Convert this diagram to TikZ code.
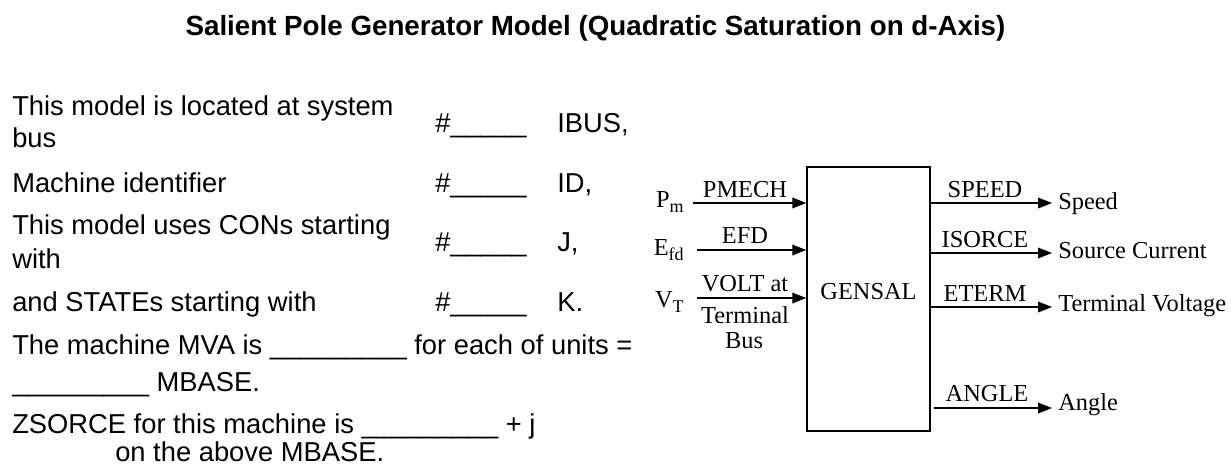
\documentclass[tikz,border=0pt]{standalone}
\usepackage{fontspec}
\setmainfont{Liberation Serif}
\newfontfamily\arialfont{Liberation Sans}
\usetikzlibrary{arrows.meta}
\newcommand{\mysub}[1]{\raisebox{-0.45ex}{\fontsize{13.5}{13.5}\selectfont #1}}
\begin{document}
\begin{tikzpicture}[x=0.75pt,y=-0.75pt,
  lt/.style={anchor=base west,inner sep=0pt,font=\arialfont\fontsize{20.5}{24}\selectfont},
  ttl/.style={anchor=base,inner sep=0pt,font=\arialfont\bfseries\fontsize{20.8}{24}\selectfont},
  dt/.style={inner sep=0pt,font=\fontsize{18.3}{21}\selectfont},
  sig/.style={dt,anchor=base},
  outl/.style={dt,anchor=base west},
  inl/.style={dt,anchor=base east},
  conn/.style={line width=1.1pt,-{Triangle[length=10.5pt,width=8pt]}},
  blk/.style={draw,line width=1.1pt,inner sep=0pt,minimum width=92.25pt,minimum height=198pt}
]
\useasboundingbox (0,0) rectangle (1231,469);

% title
\node[ttl] (title) at (595.5,35) {Salient Pole Generator Model (Quadratic Saturation on d-Axis)};

% left text
\node[lt] (l1a) at (12,115) {This model is located at system};
\node[lt] (l1b) at (12,147) {bus};
\node[lt] (h1) at (435,132) {\#\_\_\_\_\_};
\node[lt] (v1) at (557,132) {IBUS,};

\node[lt] (l2) at (12,192) {Machine identifier};
\node[lt] (h2) at (435,192) {\#\_\_\_\_\_};
\node[lt] (v2) at (557,192) {ID,};

\node[lt] (l3a) at (12,234) {This model uses CONs starting};
\node[lt] (l3b) at (12,268) {with};
\node[lt] (h3) at (435,251) {\#\_\_\_\_\_};
\node[lt] (v3) at (557,251) {J,};

\node[lt] (l4) at (12,311) {and STATEs starting with};
\node[lt] (h4) at (435,311) {\#\_\_\_\_\_};
\node[lt] (v4) at (557,311) {K.};

\node[lt] (l5a) at (12,354) {The machine MVA is \_\_\_\_\_\_\_\_\_ for each of units =};
\node[lt] (l5b) at (12,391) {\_\_\_\_\_\_\_\_\_ MBASE.};

\node[lt] (l6a) at (12,433) {ZSORCE for this machine is \_\_\_\_\_\_\_\_\_ + j};
\node[lt] (l6b) at (115,461) {on the above MBASE.};

% block
\node[blk] (gen) at (868.5,299) {};
\node[dt,anchor=base] (gname) at (868.5,299) {GENSAL};

% inputs
\node[inl] (pm) at (684,207) {P\mysub{m}};
\node[inl] (efd) at (684,255) {E\mysub{fd}};
\node[inl] (vt) at (684,307) {V\mysub{T}};

\coordinate (pm0) at (693,203);
\coordinate (efd0) at (697,250);
\coordinate (vt0) at (697,298);
\draw[conn] (pm0) -- (gen.west |- pm0);
\draw[conn] (efd0) -- (gen.west |- efd0);
\draw[conn] (vt0) -- (gen.west |- vt0);

\node[sig] (pmech) at (745,197) {PMECH};
\node[sig] (efdl) at (745,243) {EFD};
\node[sig] (volt) at (745,291) {VOLT at};
\node[sig] (term) at (745,323) {Terminal};
\node[sig] (bus) at (744,348) {Bus};

% outputs
\coordinate (sp1) at (1052,203);
\coordinate (is1) at (1052,253);
\coordinate (et1) at (1052,307);
\coordinate (an1) at (1052,408);
\draw[conn] (gen.east |- sp1) -- (sp1);
\draw[conn] (gen.east |- is1) -- (is1);
\draw[conn] (gen.east |- et1) -- (et1);
\draw[conn] ([xshift=2.25pt]gen.east |- an1) -- (an1);

\node[sig] (speed) at (985,197) {SPEED};
\node[sig] (isorce) at (985,247) {ISORCE};
\node[sig] (eterm) at (985,301) {ETERM};
\node[sig] (angle) at (987,401) {ANGLE};

\node[outl] (speedo) at (1058,209) {Speed};
\node[outl] (isorceo) at (1058,258) {Source Current};
\node[outl] (etermo) at (1058,311) {Terminal Voltage};
\node[outl] (angleo) at (1058,410) {Angle};
\end{tikzpicture}
\end{document}
